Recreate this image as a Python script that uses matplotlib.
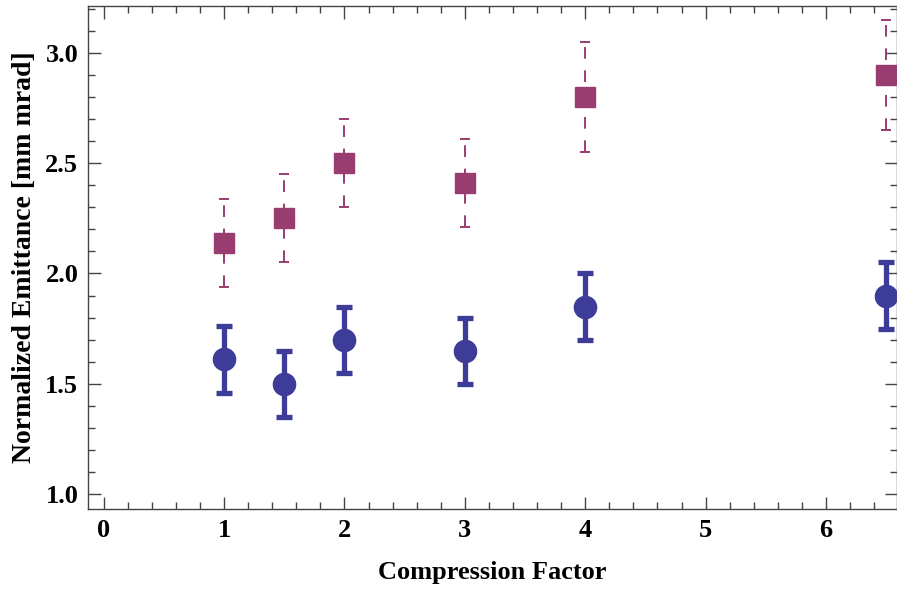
import matplotlib
matplotlib.use("Agg")
import matplotlib.pyplot as plt
from matplotlib.ticker import MultipleLocator

plt.rcParams['font.family'] = ['Liberation Serif', 'DejaVu Serif']
plt.rcParams['font.weight'] = 'bold'

compression = [1, 1.5, 2, 3, 4, 6.5]
emit_blue = [1.61, 1.50, 1.70, 1.65, 1.85, 1.90]
err_blue = [0.15, 0.15, 0.15, 0.15, 0.15, 0.15]
emit_mag = [2.14, 2.25, 2.50, 2.41, 2.80, 2.90]
err_mag = [0.20, 0.20, 0.20, 0.20, 0.25, 0.25]

blue = '#3d3d99'
mag = '#993d71'

fig = plt.figure(figsize=(8.97, 5.92), dpi=100)
ax = fig.add_axes([88/897, 1-509/592, (897-88)/897, (509-6)/592])

eb = ax.errorbar(compression, emit_mag, yerr=err_mag, fmt='s', color=mag,
                 ms=14, elinewidth=1.4, capsize=3.8, capthick=1.4, zorder=3,
                 mec=mag, clip_on=False)
eb[2][0].set_linestyle((0, (6, 6)))
eb[0].set_zorder(4)
ax.errorbar(compression, emit_blue, yerr=err_blue, fmt='o', color=blue,
            ms=16, elinewidth=3.8, capsize=5.5, capthick=3.8, zorder=3,
            clip_on=False)

ax.set_xlim(-0.13, 6.59)
ax.set_ylim(0.932, 3.213)
ax.xaxis.set_major_locator(MultipleLocator(1))
ax.xaxis.set_minor_locator(MultipleLocator(0.2))
ax.yaxis.set_major_locator(MultipleLocator(0.5))
ax.yaxis.set_minor_locator(MultipleLocator(0.1))
ax.yaxis.set_major_formatter(plt.FormatStrFormatter('%.1f'))

ax.tick_params(which='both', direction='in', top=True, right=True,
               color='#444444', width=1.0, labelsize=19, pad=7)
ax.tick_params(which='major', length=9)
ax.tick_params(which='minor', length=5)
for s in ax.spines.values():
    s.set_color('#444444')
    s.set_linewidth(1.0)
for lab in ax.get_xticklabels() + ax.get_yticklabels():
    lab.set_fontweight('bold')

ax.set_xlabel('Compression Factor', fontsize=19, fontweight='bold', labelpad=14)
ax.set_ylabel('Normalized Emittance [mm mrad]', fontsize=20, fontweight='bold', labelpad=6)

fig.savefig('out.png', dpi=100)
